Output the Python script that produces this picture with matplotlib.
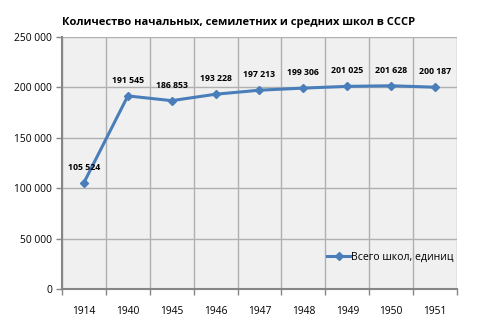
import matplotlib
matplotlib.use("Agg")
import matplotlib.pyplot as plt
import numpy as np

years = ["1914", "1940", "1945", "1946", "1947", "1948", "1949", "1950", "1951"]
schools = [105524, 191545, 186853, 193228, 197213, 199306, 201025, 201628, 200187]
labels = ["105 524", "191 545", "186 853", "193 228", "197 213", "199 306", "201 025", "201 628", "200 187"]
yticks = [0, 50000, 100000, 150000, 200000, 250000]
ytick_labels = ["0", "50 000", "100 000", "150 000", "200 000", "250 000"]
series_name = "Всего школ, единиц"
title = "Количество начальных, семилетних и средних школ в СССР"

plt.rcParams['font.family'] = ['Open Sans', 'DejaVu Sans']

fig = plt.figure(figsize=(4.81, 3.30), dpi=100)
ax = fig.add_axes([62/481, 1-289/330, (457-62)/481, (289-37)/330])
ax.set_facecolor("#F0F0F0")

x = np.arange(len(years))
ax.plot(x, schools, color="#4A7EBB", lw=2.2, marker="D", ms=4.5, label=series_name)
for xi, yi, lab in zip(x, schools, labels):
    ax.annotate(lab, (xi, yi), xytext=(0, 8), textcoords="offset points",
                ha="center", va="bottom", fontsize=6.3, fontweight="bold")

ax.set_xlim(-0.5, len(years) - 0.5)
ax.set_ylim(0, 250000)
ax.set_yticks(yticks)
ax.set_yticklabels(ytick_labels, fontsize=7.4)
ax.set_xticks(x)
ax.set_xticklabels(years, fontsize=7.4)
ax.tick_params(axis="x", length=0, pad=12)
ax.set_xticks(np.arange(-0.5, len(years), 1), minor=True)
ax.tick_params(axis="x", which="minor", length=4, color="#868686", width=1)
ax.tick_params(axis="y", length=4, color="#868686", width=1, pad=3)
ax.grid(True, which="minor", axis="x", color="#B0B0B0", lw=1)
ax.grid(True, which="major", axis="y", color="#B0B0B0", lw=1)
ax.set_axisbelow(True)
for s in ["top", "right"]:
    ax.spines[s].set_visible(False)
for s in ["left", "bottom"]:
    ax.spines[s].set_color("#868686")
    ax.spines[s].set_linewidth(1.5)

ax.legend(loc="center left", bbox_to_anchor=(0.66, 0.125), frameon=False,
          fontsize=7.6, handlelength=2.2, handletextpad=0.1, borderaxespad=0)

fig.text(239/481, 1-22/330, title, ha="center", va="center", fontsize=8.0, fontweight="bold")

fig.savefig("out.png", dpi=100)
